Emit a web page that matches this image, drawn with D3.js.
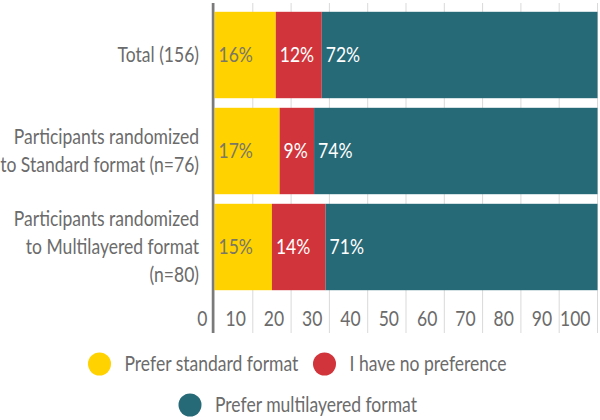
<!DOCTYPE html>
<html>
<head>
<meta charset="utf-8">
<script src="https://cdn.jsdelivr.net/npm/d3@7"></script>
<style>
  body { margin: 0; background: #ffffff; }
  svg text { font-family: "Lato", "Open Sans", sans-serif; }
</style>
</head>
<body>
<svg id="chart"></svg>
<script>
//chart values
var categories = ["Total (156)",
                  "Participants randomized\nto Standard format (n=76)",
                  "Participants randomized\nto Multilayered format\n(n=80)"];
var seriesNames = ["Prefer standard format", "I have no preference", "Prefer multilayered format"];
var preferStandard = [16, 17, 15];
var noPreference = [12, 9, 14];
var preferMultilayered = [72, 74, 71];
var tickValues = [0, 10, 20, 30, 40, 50, 60, 70, 80, 90, 100];

var colors = ["#FFD200", "#D1343A", "#266977"];
var labelColors = ["#7a7766", "#ffffff", "#ffffff"];
var textGray = "#6b6b6b";
var fontSize = "21px";

var width = 600;
var height = 420;

var svg = d3.select("#chart")
  .attr("width", width)
  .attr("height", height);

//the original uses a narrow font, so measure one legend entry and squeeze text to the same width
var probe = svg.append("text").style("font-size", fontSize).text(seriesNames[0]);
var squeeze = 174 / probe.node().getComputedTextLength();
probe.remove();

function narrow(sel, anchorX) {
  sel.attr("transform", function (d, i) {
    var ax = typeof anchorX === "function" ? anchorX(d, i) : anchorX;
    return "translate(" + ax + ",0) scale(" + squeeze + ",1) translate(" + (-ax) + ",0)";
  });
}

//build rows for the stack layout from the arrays
var rows = categories.map(function (cat, i) {
  return {category: cat, s0: preferStandard[i], s1: noPreference[i], s2: preferMultilayered[i]};
});
var keys = ["s0", "s1", "s2"];
var stacked = d3.stack().keys(keys)(rows);

//scales
var x = d3.scaleLinear()
  .domain([0, 100])
  .range([214.5, 597.5]);

var y = d3.scaleBand()
  .domain(categories)
  .range([7, 295])
  .paddingInner(0.1)
  .paddingOuter(0.05);

//vertical gridlines behind the bars
svg.append("g")
  .selectAll("line")
  .data(tickValues)
  .enter().append("line")
  .attr("x1", function (d) { return x(d); })
  .attr("x2", function (d) { return x(d); })
  .attr("y1", 3)
  .attr("y2", 333)
  .style("stroke", "#d9d9d9")
  .style("stroke-width", 1);

//stacked bars
var layers = svg.append("g")
  .selectAll("g")
  .data(stacked)
  .enter().append("g")
  .style("fill", function (d, i) { return colors[i]; });

layers.selectAll("rect")
  .data(function (d) { return d; })
  .enter().append("rect")
  .attr("x", function (d) { return x(d[0]); })
  .attr("width", function (d) { return x(d[1]) - x(d[0]); })
  .attr("y", function (d) { return y(d.data.category); })
  .attr("height", y.bandwidth());

//percent labels at the left of each segment
layers.each(function (layer, li) {
  var labels = d3.select(this).selectAll("text")
    .data(layer)
    .enter().append("text")
    .attr("x", function (d) { return x(d[0]) + 4; })
    .attr("y", function (d) { return y(d.data.category) + y.bandwidth() / 2; })
    .attr("dy", "0.35em")
    .style("font-size", fontSize)
    .style("fill", labelColors[li])
    .text(function (d) { return (d[1] - d[0]) + "%"; });
  narrow(labels, function (d) { return x(d[0]) + 4; });
});

//axis line on the left
svg.append("line")
  .attr("x1", 213)
  .attr("x2", 213)
  .attr("y1", 3)
  .attr("y2", 333)
  .style("stroke", "#7a7a7a")
  .style("stroke-width", 2.5);

//tick labels sit just left of each gridline
var tickLabels = svg.append("g")
  .selectAll("text")
  .data(tickValues)
  .enter().append("text")
  .attr("x", function (d) { return x(d) - 7; })
  .attr("y", 319)
  .attr("dy", "0.35em")
  .attr("text-anchor", "end")
  .style("font-size", fontSize)
  .style("fill", textGray)
  .text(function (d) { return d; });
narrow(tickLabels, function (d) { return x(d) - 7; });

//category labels, possibly on several lines
var lineHeight = 28;
var catLabels = svg.append("g")
  .selectAll("text")
  .data(categories)
  .enter().append("text")
  .attr("text-anchor", "end")
  .style("font-size", fontSize)
  .style("fill", textGray)
  .each(function (cat) {
    var lines = cat.split("\n");
    var mid = y(cat) + y.bandwidth() / 2;
    var first = mid - (lines.length - 1) * lineHeight / 2;
    var t = d3.select(this);
    lines.forEach(function (line, k) {
      t.append("tspan")
        .attr("x", 199)
        .attr("y", first + k * lineHeight)
        .attr("dy", "0.35em")
        .text(line);
    });
  });
narrow(catLabels, 199);

//legend, two rows
var legendItems = [
  {name: seriesNames[0], color: colors[0], cx: 99.5, cy: 364},
  {name: seriesNames[1], color: colors[1], cx: 324.5, cy: 364},
  {name: seriesNames[2], color: colors[2], cx: 190, cy: 405}
];

var legend = svg.append("g")
  .selectAll("g")
  .data(legendItems)
  .enter().append("g");

legend.append("circle")
  .attr("cx", function (d) { return d.cx; })
  .attr("cy", function (d) { return d.cy; })
  .attr("r", 11.5)
  .style("fill", function (d) { return d.color; });

var legendText = legend.append("text")
  .attr("x", function (d) { return d.cx + 25; })
  .attr("y", function (d) { return d.cy; })
  .attr("dy", "0.35em")
  .style("font-size", fontSize)
  .style("fill", textGray)
  .text(function (d) { return d.name; });
narrow(legendText, function (d) { return d.cx + 25; });
</script>
</body>
</html>
